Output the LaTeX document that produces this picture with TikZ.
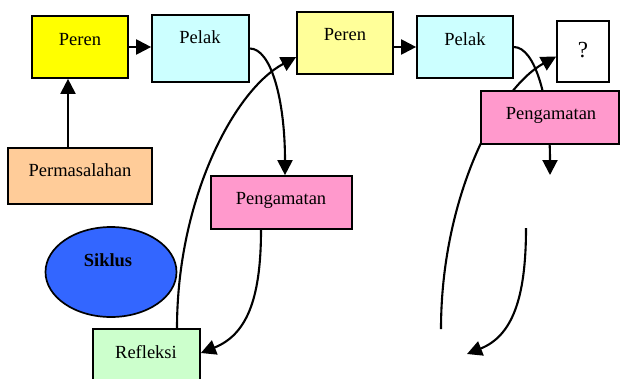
\documentclass[tikz,border=0pt]{standalone}
\usepackage{fontspec}
\setmainfont{Liberation Serif}
\usetikzlibrary{arrows.meta,shapes.geometric}
\definecolor{cYellow}{HTML}{FFFF00}
\definecolor{cCyan}{HTML}{CCFFFF}
\definecolor{cOrange}{HTML}{FFCC99}
\definecolor{cLightYellow}{HTML}{FFFF99}
\definecolor{cPink}{HTML}{FF99CC}
\definecolor{cGreen}{HTML}{CCFFCC}
\definecolor{cBlue}{HTML}{3366FF}
\tikzset{
  box/.style={draw=black,line width=1.7pt,inner sep=0pt},
  lbl/.style={font=\fontsize{18.5}{20}\selectfont,anchor=base,inner sep=0pt},
  conn/.style={line width=2.1pt,-{Triangle[length=15pt,width=15pt]}},
}
\begin{document}
\begin{tikzpicture}[x=1pt,y=-1pt]
\useasboundingbox (0,0) rectangle (620,378);
% boxes
\node[box,fill=cYellow,minimum width=96pt,minimum height=62pt] (pr1) at (80,47) {};
\node[box,fill=cCyan,minimum width=97pt,minimum height=67pt] (pl1) at (200.5,48.5) {};
\node[box,fill=cOrange,minimum width=144pt,minimum height=56pt] (pm) at (80,176) {};
\node[box,fill=cLightYellow,minimum width=96pt,minimum height=62pt] (pr2) at (345,43) {};
\node[box,fill=cCyan,minimum width=96pt,minimum height=62pt] (pl2) at (465,47) {};
\node[box,fill=white,minimum width=52pt,minimum height=61pt] (q) at (583,51.5) {};
\node[box,fill=cPink,minimum width=141pt,minimum height=53pt] (pg1) at (281.5,202.5) {};
\node[box,fill=cGreen,minimum width=107pt,minimum height=56pt] (rf) at (146.5,357) {};
\node[box,ellipse,fill=cBlue,minimum width=131pt,minimum height=90pt] (sk) at (111,272) {};
% labels
\node[lbl] (tpr1) at (80,45) {Peren};
\node[lbl] (tpl1) at (200,43) {Pelak};
\node[lbl] (tpm) at (80,176) {Permasalahan};
\node[lbl] (tpr2) at (345,40) {Peren};
\node[lbl] (tpl2) at (465,45) {Pelak};
\node[lbl,font=\fontsize{23}{25}\selectfont] (tq) at (583,57.5) {?};
\node[lbl] (tpg1) at (281,204) {Pengamatan};
\node[lbl,font=\fontsize{18.5}{20}\selectfont\bfseries] (tsk) at (108,266) {Siklus};
\node[lbl] (trf) at (146,358) {Refleksi};
% straight connectors
\draw[conn] ([xshift=-12pt]pm.north) -- ([xshift=-12pt]pr1.south);
\draw[conn] (pr1.east) -- (pr1.east -| pl1.west);
\draw[conn] (pl2.west -| pr2.east) -- (pl2.west);
% left cycle
\draw[conn] (pl1.east) .. controls +(21,0) and +(0,-76) .. ([xshift=3.5pt]pg1.north);
\draw[conn] ([xshift=30.5pt]rf.north) .. controls +(0,-129) and +(-62,33) .. ([yshift=-14pt]pr2.west);
\draw[conn] ([xshift=-20.5pt]pg1.south) .. controls +(0,71) and +(45,-18) .. ([yshift=4pt]rf.east);
% right cycle
\coordinate (e4) at (550,175);
\coordinate (s5) at (441,329);
\coordinate (s6) at (526,228);
\coordinate (e6) at (467,354);
\draw[conn] (pl2.east) .. controls +(21,0) and +(0,-76) .. (e4);
\draw[conn] (s5) .. controls +(0,-129) and +(-60,33) .. ([yshift=-5pt]q.west);
\draw[conn] (s6) .. controls +(0,71) and +(45,-18) .. (e6);
% front box
\node[box,fill=cPink,minimum width=138pt,minimum height=53pt] (pg2) at (550,117.5) {};
\node[lbl] (tpg2) at (551,119) {Pengamatan};
\end{tikzpicture}
\end{document}
